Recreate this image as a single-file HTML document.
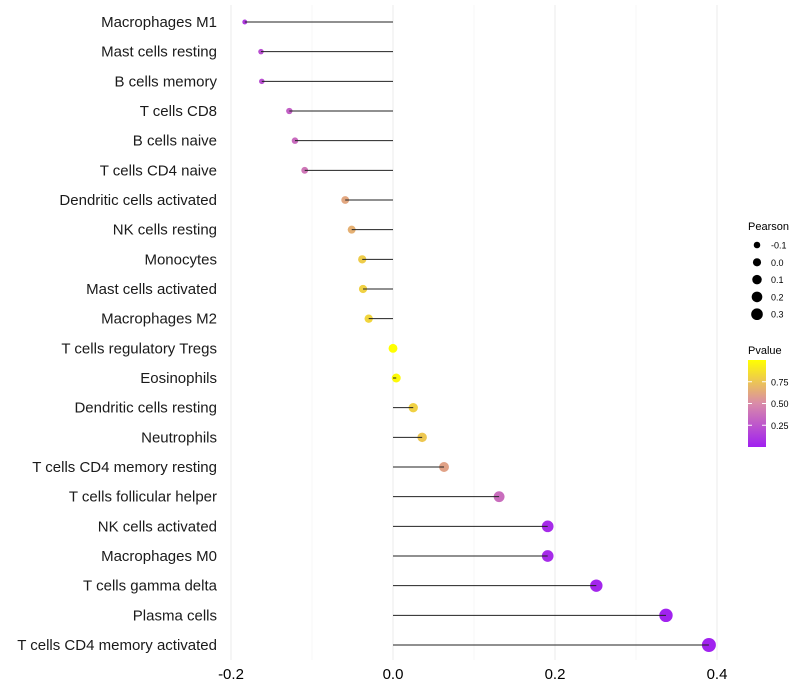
<!DOCTYPE html>
<html><head><meta charset="utf-8"><style>
body{margin:0;background:#fff;font-family:"Liberation Sans",sans-serif;}
svg{display:block}
</style></head><body>
<svg id="chart" width="800" height="700">
<defs><linearGradient id="pg" x1="0" y1="1" x2="0" y2="0">
<stop offset="0" stop-color="#A020F0"/><stop offset="0.5" stop-color="#D98BA9"/><stop offset="1" stop-color="#FFFF00"/>
</linearGradient></defs>
<g id="grid"></g><g id="dots"></g><g id="marks"></g><g id="labels"></g><g id="legend"></g>
</svg>
<script>
const categories=["Macrophages M1","Mast cells resting","B cells memory","T cells CD8","B cells naive","T cells CD4 naive","Dendritic cells activated","NK cells resting","Monocytes","Mast cells activated","Macrophages M2","T cells regulatory  Tregs ","Eosinophils","Dendritic cells resting","Neutrophils","T cells CD4 memory resting","T cells follicular helper","NK cells activated","Macrophages M0","T cells gamma delta","Plasma cells","T cells CD4 memory activated"];
const pearson=[-0.183,-0.163,-0.162,-0.128,-0.121,-0.109,-0.059,-0.051,-0.038,-0.037,-0.030,0.000,0.004,0.025,0.036,0.063,0.131,0.191,0.191,0.251,0.337,0.390];
const pvalues=[0.12,0.22,0.22,0.3,0.35,0.4,0.62,0.66,0.78,0.8,0.82,1.0,0.98,0.8,0.76,0.6,0.36,0.05,0.05,0.03,0.01,0.01];
const xTicks=[-0.2,0.0,0.2,0.4];
const xTickLabels=["-0.2","0.0","0.2","0.4"];
const sizeLegend=[-0.1,0.0,0.1,0.2,0.3];
const sizeLegendLabels=["-0.1","0.0","0.1","0.2","0.3"];
const colorTicks=[0.25,0.5,0.75];
const colorTickLabels=["0.25","0.50","0.75"];
const NS="http://www.w3.org/2000/svg";
const x=v=>393+v*810;
const y=i=>22+i*(623/21);
const r=v=>Math.sqrt(Math.max(3,19.75+75*v));
function lerp(a,b,t){return a.map((c,k)=>Math.round(c+(b[k]-c)*t));}
function col(p){const A=[160,32,240],M=[217,139,169],B=[255,255,0];const c=p<0.5?lerp(A,M,p/0.5):lerp(M,B,(p-0.5)/0.5);return `rgb(${c.join(',')})`;}
function mk(tag,attrs,parent,text){const e=document.createElementNS(NS,tag);for(const k in attrs)e.setAttribute(k,attrs[k]);if(text!==undefined)e.textContent=text;document.getElementById(parent).appendChild(e);return e;}
[-0.1,0.1,0.3].forEach(v=>{const l=mk('line',{x1:x(v),x2:x(v),y1:5,y2:660,stroke:'#f2f2f2','stroke-width':0.6},'grid');});
xTicks.forEach((v,i)=>{const l=mk('line',{x1:x(v),x2:x(v),y1:5,y2:660,stroke:'#ebebeb','stroke-width':1},'grid');
const t=mk('text',{x:x(v),y:679,'text-anchor':'middle','font-size':15,fill:'#000'},'labels',xTickLabels[i]);});
categories.forEach((c,i)=>{
const t=mk('text',{x:217,y:y(i)+5,'text-anchor':'end','font-size':15,fill:'#1a1a1a'},'labels',c);
const d=mk('circle',{cx:x(pearson[i]),cy:y(i),r:r(pearson[i]),fill:col(pvalues[i])},'dots');
const l=mk('line',{x1:x(0),x2:x(pearson[i]),y1:y(i),y2:y(i),stroke:'#222','stroke-width':1},'marks');
});
const lt=mk('text',{x:748,y:230,'font-size':11},'legend','Pearson');
sizeLegend.forEach((v,i)=>{const yy=245+i*17.3;
const c=mk('circle',{cx:757,cy:yy,r:r(v)*0.85+0.3,fill:'#000'},'legend');
const t=mk('text',{x:771,y:yy+3.5,'font-size':9},'legend',sizeLegendLabels[i]);});
const pt=mk('text',{x:748,y:354,'font-size':11},'legend','Pvalue');
const bar=mk('rect',{x:748,y:360,width:18,height:87,fill:'url(#pg)'},'legend');
colorTicks.forEach((v,i)=>{const yy=447-v*87;
const l=mk('line',{x1:748,x2:752,y1:yy,y2:yy,stroke:'#fff'},'legend');
const l2=mk('line',{x1:762,x2:766,y1:yy,y2:yy,stroke:'#fff'},'legend');
const t=mk('text',{x:771,y:yy+3.5,'font-size':9},'legend',colorTickLabels[i]);});
</script>
</body></html>
